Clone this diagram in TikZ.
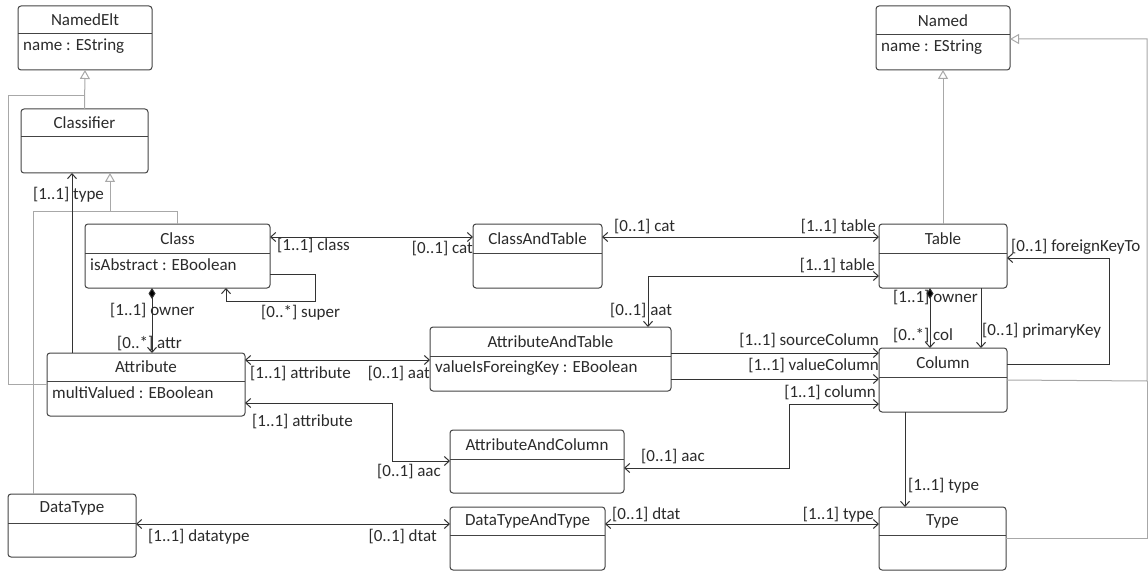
\documentclass[tikz,border=0pt]{standalone}
\usepackage{fontspec}
\setmainfont{Carlito}
\usetikzlibrary{arrows.meta}
\definecolor{boxc}{HTML}{444444}
\definecolor{linec}{HTML}{333333}
\definecolor{genc}{HTML}{A8A8A8}
\definecolor{txt}{HTML}{2B2B2B}
% name, x1, y1, x2, y2, header y, title, attribute
\newcommand\umlbox[8]{%
  \node[classbox, minimum width={(#4)-(#2)}, minimum height={(#5)-(#3)}] (#1) at ({((#2)+(#4))/2},{-((#3)+(#5))/2}) {};
  \path (#1.north west) ++(0,{-((#6)-(#3))}) coordinate (#1-hl);
  \draw[boxline] (#1-hl) -- (#1-hl -| #1.east);
  \node[boxtext] (#1-t) at ({((#2)+(#4))/2},{-((#3)+(#6))/2}) {#7};
  \if\relax\detokenize{#8}\relax\else
    \node[boxtext, anchor=west] (#1-a) at ({(#2)+5},{-(#6)-12}) {#8};
  \fi
}
\begin{document}
\begin{tikzpicture}[x=1pt,y=1pt,
  classbox/.style={draw=boxc, fill=white, rounded corners=3pt, line width=1pt, inner sep=0pt, outer sep=0pt},
  boxline/.style={draw=boxc, line width=1pt},
  boxtext/.style={font=\fontsize{17}{20}\selectfont, text=txt, inner sep=0pt},
  lbl/.style={font=\fontsize{17}{20}\selectfont, text=txt, inner sep=0pt},
  assoc/.style={draw=linec, line width=1pt},
  barb/.tip={Straight Barb[length=5pt,width=9pt]},
  bidir/.style={assoc, barb-barb},
  uni/.style={assoc, -barb},
  comp/.style={assoc, {Diamond[length=11pt,width=7pt,fill=black]}-barb},
  gen/.style={draw=genc, line width=1pt},
  genarrow/.style={gen, -{Triangle[open, length=9pt, width=10pt, fill=white]}}
]
\useasboundingbox[fill=white] (0,0) rectangle (1148,-572);

% ---------- classes ----------
\umlbox{NamedElt}{18}{6}{152}{70}{34}{NamedElt}{name : EString}
\umlbox{Classifier}{21}{109}{148}{173}{137}{Classifier}{}
\umlbox{Class}{85}{224}{270}{288}{253}{Class}{isAbstract : EBoolean}
\umlbox{Attribute}{47}{353}{245}{416}{381}{Attribute}{multiValued : EBoolean}
\umlbox{DataType}{8}{494}{136}{557}{523}{DataType}{}
\umlbox{ClassAndTable}{473}{224}{602}{288}{253}{ClassAndTable}{}
\umlbox{AttributeAndTable}{430}{327}{671}{391}{356}{AttributeAndTable}{valueIsForeingKey : EBoolean}
\umlbox{AttributeAndColumn}{450}{430}{624}{493}{459}{AttributeAndColumn}{}
\umlbox{DataTypeAndType}{450}{507}{605}{570}{535}{DataTypeAndType}{}
\umlbox{Named}{876}{6}{1010}{70}{35}{Named}{name : EString}
\umlbox{Table}{879}{224}{1007}{288}{253}{Table}{}
\umlbox{Column}{879}{348}{1007}{412}{377}{Column}{}
\umlbox{Type}{879}{507}{1006}{570}{535}{Type}{}

% ---------- generalizations ----------
\draw[genarrow] (Classifier.north) -- (NamedElt.south);
\coordinate (gA) at (8,-96);
\draw[gen] (Attribute.west) -| (gA) -- (gA -| NamedElt.south);
\coordinate (gB) at (110,-212);
\draw[genarrow] (Class.north) |- (gB) -- (gB |- Classifier.south);
\draw[gen] ([xshift=-39]DataType.north) |- (gB);
\draw[genarrow] (Table.north) -- (Named.south);
\coordinate (gC) at (1147,-381);
\draw[gen] (Type.east) -| (gC);
\draw[genarrow] (Column.east) -- (gC) |- ([yshift=-33]Named.north east);

% ---------- associations ----------
\coordinate (aT) at ([xshift=-74]Attribute.north);
\draw[uni] (aT) -- (aT |- Classifier.south);

\coordinate (cO) at ([xshift=-25.5]Class.south);
\draw[comp] (cO) -- (cO |- Attribute.north);

\coordinate (sA) at ([yshift=14]Class.south east);
\coordinate (sB) at (315,-301);
\coordinate (sC) at ([xshift=48.5]Class.south);
\draw[uni] (sA) -| (sB) -| (sC);

\coordinate (ct1) at ([yshift=-13]Class.north east);
\draw[bidir] (ct1) -- (ct1 -| ClassAndTable.west);
\coordinate (ct2) at ([yshift=-13]ClassAndTable.north east);
\draw[bidir] (ct2) -- (ct2 -| Table.west);

\coordinate (at1) at ([xshift=97.5]AttributeAndTable.north);
\coordinate (at2) at ([yshift=12]Table.south west);
\draw[bidir] (at1) |- (at2);

\coordinate (aa1) at ([yshift=-7]Attribute.north east);
\draw[bidir] (aa1) -- (aa1 -| AttributeAndTable.west);

\coordinate (sc) at ([yshift=-5]Column.north west);
\draw[uni] (sc -| AttributeAndTable.east) -- (sc);
\coordinate (vc) at ([yshift=-31]Column.north west);
\draw[uni] (vc -| AttributeAndTable.east) -- (vc);

\coordinate (cS) at ([yshift=8]Column.south west);
\coordinate (acE) at ([yshift=25]AttributeAndColumn.south east);
\draw[bidir] (acE) -| ([xshift=-90]cS) -- (cS);

\coordinate (aS) at ([yshift=13]Attribute.south east);
\coordinate (aE) at ([yshift=-31]AttributeAndColumn.north west);
\draw[bidir] (aS) -| ([xshift=-58]aE) -- (aE);

\coordinate (dP) at ([yshift=-30]DataType.north east);
\draw[bidir] (dP) -- (dP -| DataTypeAndType.west);
\coordinate (dT) at ([yshift=-17]DataTypeAndType.north east);
\draw[bidir] (dT) -- (dT -| Type.west);

\coordinate (cty) at ([xshift=-38]Column.south);
\draw[uni] (cty) -- (cty |- Type.north);

\coordinate (tc) at ([xshift=-13]Table.south);
\draw[comp] (tc) -- (tc |- Column.north);
\coordinate (tp) at ([xshift=38]Table.south);
\draw[uni] (tp) -- (tp |- Column.north);

\coordinate (fk1) at ([yshift=-16]Column.north east);
\coordinate (fk2) at ([yshift=-34]Table.north east);
\draw[uni] (fk1) -| ([xshift=102]fk2) -- (fk2);

% ---------- labels ----------
\node[lbl] (l1) at (68.5,-195) {[1..1] type};
\node[lbl, anchor=west] (l2) at (110,-311) {[1..1] owner};
\node[lbl, anchor=west] (l3) at (117,-344) {[0..*] attr};
\node[lbl, anchor=west] (l4) at (261,-313) {[0..*] super};
\node[lbl, anchor=west] (l5) at (277,-246) {[1..1] class};
\node[lbl, anchor=east] (l6) at (473,-249) {[0..1] cat};
\node[lbl, anchor=west] (l7) at (614,-227) {[0..1] cat};
\node[lbl, anchor=east] (l8) at (876,-227) {[1..1] table};
\node[lbl, anchor=east] (l9) at (875,-266) {[1..1] table};
\node[lbl, anchor=west] (l10) at (610,-311) {[0..1] aat};
\node[lbl, anchor=west] (l11) at (250,-374) {[1..1] attribute};
\node[lbl, anchor=east] (l12) at (430,-374) {[0..1] aat};
\node[lbl, anchor=east] (l13) at (879,-341) {[1..1] sourceColumn};
\node[lbl, anchor=east] (l14) at (879,-366) {[1..1] valueColumn};
\node[lbl, anchor=east] (l15) at (876,-393) {[1..1] column};
\node[lbl, anchor=west] (l16) at (893,-298) {[1..1] owner};
\node[lbl, anchor=west] (l17) at (893,-336) {[0..*] col};
\node[lbl, anchor=west] (l18) at (982,-331) {[0..1] primaryKey};
\node[lbl, anchor=west] (l19) at (1011,-247) {[0..1] foreignKeyTo};
\node[lbl, anchor=west] (l20) at (252,-422) {[1..1] attribute};
\node[lbl, anchor=east] (l21) at (441,-472) {[0..1] aac};
\node[lbl, anchor=west] (l22) at (641,-457) {[0..1] aac};
\node[lbl, anchor=west] (l23) at (908,-486) {[1..1] type};
\node[lbl, anchor=west] (l24) at (612,-515) {[0..1] dtat};
\node[lbl, anchor=east] (l25) at (874,-515) {[1..1] type};
\node[lbl, anchor=west] (l26) at (148,-537) {[1..1] datatype};
\node[lbl, anchor=east] (l27) at (437,-537) {[0..1] dtat};
\end{tikzpicture}
\end{document}
